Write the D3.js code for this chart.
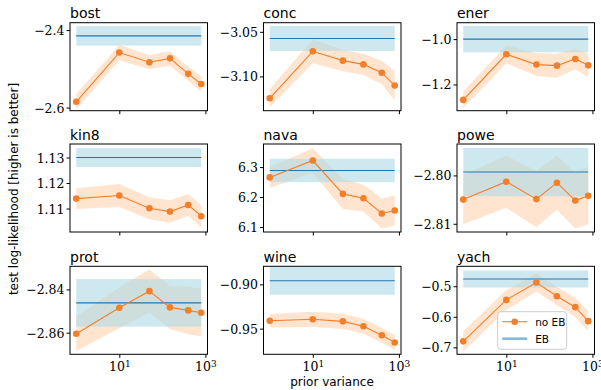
<!DOCTYPE html>
<html>
<head>
<meta charset="utf-8">
<script src="https://cdn.jsdelivr.net/npm/d3@7"></script>
<style>
  body { margin: 0; background: #fff; }
  svg { display: block; }
  .tick-y { font-family: "DejaVu Serif", serif; font-size: 12.5px; }
  .sans { font-family: "DejaVu Sans", sans-serif; }
</style>
</head>
<body>
<div id="chart"></div>
<script>
// datasets, in panel order (row by row)
var names = ["bost", "conc", "ener", "kin8", "nava", "powe", "prot", "wine", "yach"];
var priorVar = [1, 10, 50, 150, 400, 800];

// no EB: mean and spread for each prior variance
var noEbMean = [
  [-2.585, -2.458, -2.483, -2.473, -2.513, -2.539],
  [-3.1245, -3.0718, -3.0823, -3.0865, -3.0958, -3.1102],
  [-1.268, -1.0667, -1.1124, -1.117, -1.0874, -1.1156],
  [1.1139, 1.1151, 1.1101, 1.1088, 1.1114, 1.107],
  [6.2656, 6.3219, 6.2106, 6.196, 6.1454, 6.1553],
  [-2.805, -2.8013, -2.8049, -2.8015, -2.8052, -2.8042],
  [-2.8605, -2.8485, -2.8408, -2.8483, -2.8497, -2.8508],
  [-0.9411, -0.9394, -0.9418, -0.9473, -0.9575, -0.9657],
  [-0.6804, -0.5447, -0.4879, -0.5326, -0.5685, -0.6142]
];
var noEbStd = [
  [0.02, 0.02, 0.018, 0.019, 0.018, 0.02],
  [0.01, 0.0135, 0.012, 0.012, 0.013, 0.0165],
  [0.037, 0.04, 0.05, 0.053, 0.045, 0.052],
  [0.0041, 0.0045, 0.0043, 0.0044, 0.0043, 0.0043],
  [0.035, 0.041, 0.05, 0.045, 0.05, 0.05],
  [0.0051, 0.0054, 0.0058, 0.0056, 0.0058, 0.006],
  [0.008, 0.0095, 0.01, 0.01, 0.011, 0.011],
  [0.0075, 0.0085, 0.0085, 0.0085, 0.0085, 0.0085],
  [0.033, 0.032, 0.03, 0.03, 0.032, 0.033]
];

// EB: one value per dataset
var ebMean = [-2.415, -3.0575, -1.0, 1.13, 6.2888, -2.7993, -2.8462, -0.896, -0.4762];
var ebStd = [0.025, 0.014, 0.058, 0.0037, 0.039, 0.005, 0.011, 0.0157, 0.028];

// y limits and ticks of each panel
var yLims = [
  [-2.608, -2.381], [-3.1384, -3.0398], [-1.3156, -0.9276],
  [1.1008, 1.1353], [6.0835, 6.377], [-2.8117, -2.7935],
  [-2.87, -2.8293], [-0.979, -0.8796], [-0.7228, -0.4347]
];
var yTicks = [
  [-2.6, -2.4], [-3.10, -3.05], [-1.2, -1.0],
  [1.11, 1.12, 1.13], [6.1, 6.2, 6.3], [-2.81, -2.80],
  [-2.86, -2.84], [-0.95, -0.90], [-0.7, -0.6, -0.5]
];
var yTickLabels = [
  ["−2.6", "−2.4"], ["−3.10", "−3.05"], ["−1.2", "−1.0"],
  ["1.11", "1.12", "1.13"], ["6.1", "6.2", "6.3"], ["−2.81", "−2.80"],
  ["−2.86", "−2.84"], ["−0.95", "−0.90"], ["−0.7", "−0.6", "−0.5"]
];
var xTicks = [10, 1000];
var xTickExp = ["1", "3"];

var orange = "#f47f2a";
var blue = "#1f77b4";

var W = 601, H = 390;
var colX = [70, 263.5, 457], rowY = [22.7, 144, 266.3];
var pw = 137.5, ph = 88;

var svg = d3.select("#chart").append("svg")
  .attr("width", W)
  .attr("height", H);

// log x scale with 5% padding in log space
var lx0 = Math.log10(d3.min(priorVar)), lx1 = Math.log10(d3.max(priorVar));
var pad = (lx1 - lx0) * 0.05;
var x = d3.scaleLog()
  .domain([Math.pow(10, lx0 - pad), Math.pow(10, lx1 + pad)])
  .range([0, pw]);

names.forEach(function(name, i) {
  var row = Math.floor(i / 3), col = i % 3;
  var g = svg.append("g")
    .attr("transform", "translate(" + colX[col] + "," + rowY[row] + ")");

  var y = d3.scaleLinear().domain(yLims[i]).range([ph, 0]);

  g.append("clipPath").attr("id", "clip" + i)
    .append("rect").attr("width", pw).attr("height", ph);
  var plot = g.append("g").attr("clip-path", "url(#clip" + i + ")");

  var pts = priorVar.map(function(v, j) {
    return {x: v, m: noEbMean[i][j], s: noEbStd[i][j]};
  });

  // no EB band
  plot.append("path")
    .datum(pts)
    .attr("fill", "#ff7f0e")
    .attr("fill-opacity", 0.2)
    .attr("d", d3.area()
      .x(function(d) { return x(d.x); })
      .y0(function(d) { return y(d.m - d.s); })
      .y1(function(d) { return y(d.m + d.s); }));

  // EB band + line
  var xr = d3.extent(priorVar);
  plot.append("rect")
    .attr("x", x(xr[0]))
    .attr("width", x(xr[1]) - x(xr[0]))
    .attr("y", y(ebMean[i] + ebStd[i]))
    .attr("height", y(ebMean[i] - ebStd[i]) - y(ebMean[i] + ebStd[i]))
    .attr("fill", "#add8e6")
    .attr("fill-opacity", 0.6);
  plot.append("line")
    .attr("x1", x(xr[0])).attr("x2", x(xr[1]))
    .attr("y1", y(ebMean[i])).attr("y2", y(ebMean[i]))
    .attr("stroke", blue)
    .attr("stroke-width", 1.1);

  // no EB line with markers
  plot.append("path")
    .datum(pts)
    .attr("fill", "none")
    .attr("stroke", orange)
    .attr("stroke-width", 1.1)
    .attr("d", d3.line()
      .x(function(d) { return x(d.x); })
      .y(function(d) { return y(d.m); }));
  plot.selectAll("circle")
    .data(pts)
    .enter().append("circle")
    .attr("cx", function(d) { return x(d.x); })
    .attr("cy", function(d) { return y(d.m); })
    .attr("r", 3.3)
    .attr("fill", orange);

  // frame
  g.append("rect")
    .attr("width", pw).attr("height", ph)
    .attr("fill", "none")
    .attr("stroke", "#000")
    .attr("stroke-width", 1);

  // y axis
  var ya = g.append("g")
    .call(d3.axisLeft(y).tickValues(yTicks[i]).tickSize(3.5).tickPadding(2)
      .tickFormat(function(d, k) { return yTickLabels[i][k]; }));
  ya.select(".domain").remove();
  ya.selectAll("line").attr("stroke", "#000");
  ya.selectAll("text").attr("class", "tick-y").attr("fill", "#000").attr("dy", "0.36em")
    .style("font-family", "DejaVu Serif, serif").style("font-size", "12.5px");

  // x axis ticks (labels on bottom row only)
  var xa = g.append("g").attr("transform", "translate(0," + ph + ")")
    .call(d3.axisBottom(x).tickValues(xTicks).tickSize(3.5).tickFormat(""));
  xa.select(".domain").remove();
  xa.selectAll("line").attr("stroke", "#000");
  if (row === 2) {
    xa.selectAll(".tick").each(function(d, k) {
      var t = d3.select(this).append("text")
        .attr("y", 16.3)
        .attr("fill", "#000")
        .attr("text-anchor", "middle")
        .style("font-family", "DejaVu Serif, serif")
        .style("font-size", "12.5px");
      t.append("tspan").text("10");
      t.append("tspan").attr("dy", "-0.45em").style("font-size", "9px").text(xTickExp[k]);
    });
  }

  // title
  g.append("text")
    .attr("class", "sans")
    .attr("x", 0)
    .attr("y", -4.5)
    .style("font-size", "14px")
    .text(name);
});

// axis labels
svg.append("text")
  .attr("class", "sans")
  .attr("transform", "translate(17.5,189) rotate(-90)")
  .attr("text-anchor", "middle")
  .style("font-size", "12px")
  .text("test log-likelihood [higher is better]");

svg.append("text")
  .attr("class", "sans")
  .attr("x", 332)
  .attr("y", 386)
  .attr("text-anchor", "middle")
  .style("font-size", "12px")
  .text("prior variance");

// legend
var leg = svg.append("g").attr("transform", "translate(497.7,311.7)");
leg.append("rect")
  .attr("width", 69).attr("height", 37.6).attr("rx", 3)
  .attr("fill", "#fff").attr("fill-opacity", 0.8)
  .attr("stroke", "#cccccc").attr("stroke-width", 1);
leg.append("line")
  .attr("x1", 4.5).attr("x2", 29.5).attr("y1", 10).attr("y2", 10)
  .attr("stroke", orange).attr("stroke-width", 1.1);
leg.append("circle").attr("cx", 17).attr("cy", 10).attr("r", 3.3).attr("fill", orange);
leg.append("line")
  .attr("x1", 4.5).attr("x2", 29.5).attr("y1", 27).attr("y2", 27)
  .attr("stroke", "#7fb8da").attr("stroke-width", 2.5);
leg.append("text").attr("class", "sans").attr("x", 37.5).attr("y", 14.3)
  .style("font-size", "10.5px").text("no EB");
leg.append("text").attr("class", "sans").attr("x", 37.5).attr("y", 31)
  .style("font-size", "10.5px").text("EB");
</script>
</body>
</html>
